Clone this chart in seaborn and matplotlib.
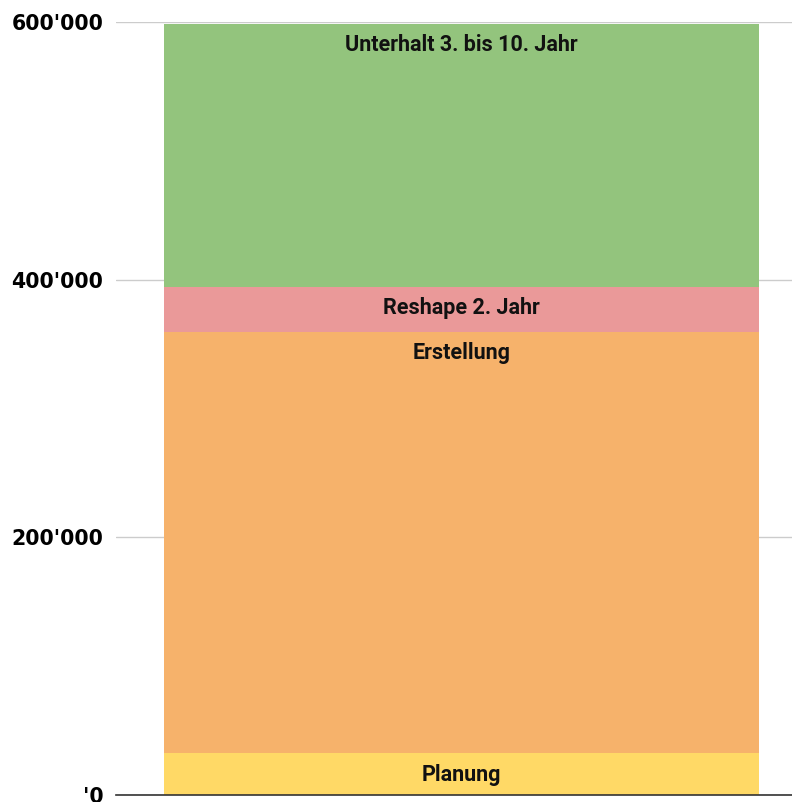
import matplotlib
matplotlib.use("Agg")
import matplotlib.pyplot as plt
import seaborn as sns
import numpy as np
import pandas as pd

segments = ["Planung", "Erstellung", "Reshape 2. Jahr", "Unterhalt 3. bis 10. Jahr"]
values = [32400, 327200, 35000, 203700]
colors = ["#FFD966", "#F6B26B", "#EA9999", "#93C47D"]
yticks = [0, 200000, 400000, 600000]
yticklabels = ["'0", "200'000", "400'000", "600'000"]

sns.set_theme(style="white")
plt.rcParams['font.family'] = ['DejaVu Sans']

fig = plt.figure(figsize=(7.92, 8.02), dpi=100)
ax = fig.add_axes([116/792, 1 - 795/802, 1 - 116/792, (795 - 22)/802])

cum = np.cumsum(values)
df = pd.DataFrame({"x": ["Kosten"] * len(segments), "segment": segments, "top": cum})

# draw cumulative totals, tallest first, so the stacks overlap correctly
for i in reversed(range(len(segments))):
    sns.barplot(data=df.iloc[[i]], x="x", y="top", color=colors[i], width=1.0,
                saturation=1, ax=ax, edgecolor="none", linewidth=0)

for i, seg in enumerate(segments):
    ax.annotate(seg, xy=(0, cum[i]), xytext=(0, -7.4), textcoords="offset points",
                ha="center", va="top", fontsize=15.5, fontweight="bold",
                family="Roboto", color="#111111")

ax.set_ylim(0, 600000)
ax.set_xlim(-0.5 - 48/595, 0.5 + 33/595)
ax.set_yticks(yticks)
ax.set_yticklabels(yticklabels, fontsize=14.8, fontweight="bold", color="black")
ax.tick_params(axis="y", length=0, pad=9)
ax.set_xticks([])
ax.set_xlabel("")
ax.set_ylabel("")
ax.yaxis.grid(True, color="#cccccc", linewidth=1)
ax.set_axisbelow(True)
for s in ["top", "right", "left"]:
    ax.spines[s].set_visible(False)
ax.spines["bottom"].set_color("#333333")
ax.spines["bottom"].set_linewidth(1.2)

fig.savefig("out.png", dpi=100)
